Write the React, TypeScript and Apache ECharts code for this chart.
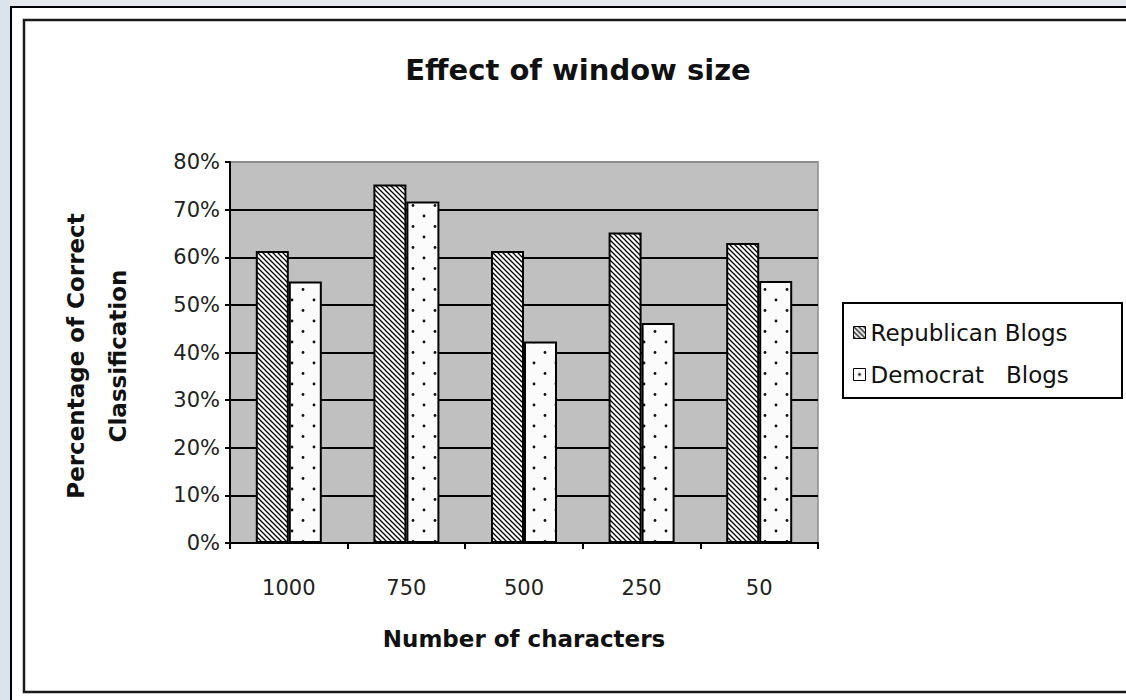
import React, { useEffect, useRef } from "react";
import * as echarts from "echarts";

const categories = ["1000", "750", "500", "250", "50"];
const republican = [61.3, 75.3, 61.3, 65.2, 63.0];
const democrat = [54.9, 71.7, 42.3, 46.2, 55.0];
const yTicks = [0, 10, 20, 30, 40, 50, 60, 70, 80];

const FONT = '"DejaVu Sans", "Liberation Sans", Arial, sans-serif';

function hatchTile(): HTMLCanvasElement {
  const s = 5;
  const c = document.createElement("canvas");
  c.width = s;
  c.height = s;
  const g = c.getContext("2d")!;
  g.fillStyle = "#ffffff";
  g.fillRect(0, 0, s, s);
  g.strokeStyle = "#000000";
  g.lineWidth = 1.25;
  for (const off of [-s, 0, s]) {
    g.beginPath();
    g.moveTo(off - 1, -1);
    g.lineTo(off + s + 1, s + 1);
    g.stroke();
  }
  return c;
}

function dotTile(): HTMLCanvasElement {
  const c = document.createElement("canvas");
  c.width = 22;
  c.height = 21;
  const g = c.getContext("2d")!;
  g.fillStyle = "#fbfbfb";
  g.fillRect(0, 0, 22, 21);
  g.fillStyle = "#111111";
  g.beginPath();
  g.arc(6, 6, 1.4, 0, Math.PI * 2);
  g.fill();
  g.beginPath();
  g.arc(17, 16.5, 1.4, 0, Math.PI * 2);
  g.fill();
  return c;
}

export default function App() {
  const ref = useRef<HTMLDivElement>(null);
  useEffect(() => {
    if (!ref.current) return;
    const chart = echarts.init(ref.current, undefined, { renderer: "svg" });
    const hatch = { image: hatchTile(), repeat: "repeat" } as any;
    const dots = { image: dotTile(), repeat: "repeat" } as any;
    const splitColors = yTicks.map((t) => (t === yTicks[yTicks.length - 1] ? "#8c8c8c" : "#000000"));
    chart.setOption({
      animation: false,
      backgroundColor: "#ffffff",
      textStyle: { fontFamily: FONT },
      grid: {
        left: 230,
        right: 1126 - 818,
        top: 162,
        bottom: 700 - 543,
        show: true,
        backgroundColor: "#c0c0c0",
        borderColor: "#8c8c8c",
        borderWidth: 1.5,
      },
      legend: {
        orient: "vertical",
        left: 848,
        top: 316,
        itemWidth: 12,
        itemHeight: 12,
        itemGap: 19,
        itemTextGap: 5,
        icon: "rect",
        textStyle: { fontFamily: FONT, fontSize: 23, color: "#111" },
        itemStyle: { borderColor: "#000", borderWidth: 1 },
        data: ["Republican Blogs", "Democrat   Blogs"],
      },
      xAxis: {
        type: "category",
        data: categories,
        axisLine: { lineStyle: { color: "#000", width: 2 } },
        axisTick: { show: true, length: 6, lineStyle: { color: "#000", width: 2 } },
        axisLabel: { margin: 34, fontSize: 21, color: "#222", fontFamily: FONT },
        name: "Number of characters",
        nameLocation: "middle",
        nameGap: 84,
        nameTextStyle: { fontSize: 23, fontWeight: "bold", color: "#111", fontFamily: FONT },
      },
      yAxis: {
        type: "value",
        min: 0,
        max: 80,
        interval: 10,
        axisLine: { show: true, lineStyle: { color: "#000", width: 2 } },
        axisTick: { show: true, length: 5, lineStyle: { color: "#000", width: 2 } },
        axisLabel: { margin: 10, fontSize: 21, color: "#222", fontFamily: FONT, formatter: "{value}%" },
        splitLine: { show: true, lineStyle: { color: splitColors, width: 2 } },
      },
      series: [
        {
          name: "Republican Blogs",
          type: "bar",
          data: republican,
          barWidth: 33,
          barGap: "0%",
          itemStyle: { color: hatch, borderColor: "#000", borderWidth: 2 },
        },
        {
          name: "Democrat   Blogs",
          type: "bar",
          data: democrat,
          barWidth: 33,
          barGap: "0%",
          itemStyle: { color: dots, borderColor: "#000", borderWidth: 2 },
        },
      ],
      graphic: [
        { type: "rect", shape: { x: 0, y: 0, width: 10, height: 700 }, style: { fill: "#dde3ea" }, z: -1 },
        { type: "rect", shape: { x: 10, y: 0, width: 1116, height: 6 }, style: { fill: "#e4e8ed" }, z: -1 },
        { type: "polyline", shape: { points: [[11, 700], [11, 7], [1130, 7]] }, style: { stroke: "#000", lineWidth: 2, fill: null } },
        { type: "rect", shape: { x: 24, y: 20, width: 1200, height: 672 }, style: { stroke: "#1a1a1a", lineWidth: 2.5, fill: null } },
        {
          type: "rect",
          shape: { x: 843, y: 303, width: 279, height: 95 },
          style: { stroke: "#000", lineWidth: 2, fill: "#ffffff" },
          z: -1,
        },
        {
          type: "text",
          x: 578,
          y: 70,
          style: {
            text: "Effect of window size",
            font: `bold 29px ${FONT}`,
            fill: "#111",
            textAlign: "center",
            textVerticalAlign: "middle",
          },
        },
        {
          type: "text",
          x: 97,
          y: 356,
          rotation: Math.PI / 2,
          style: {
            text: "Percentage of Correct\nClassification",
            font: `bold 23px ${FONT}`,
            lineHeight: 42,
            fill: "#111",
            textAlign: "center",
            textVerticalAlign: "middle",
          },
        },
      ],
    });
    return () => chart.dispose();
  }, []);
  return (
    <div
      ref={ref}
      style={{ position: "absolute", left: 0, top: 0, width: 1126, height: 700 }}
    />
  );
}
